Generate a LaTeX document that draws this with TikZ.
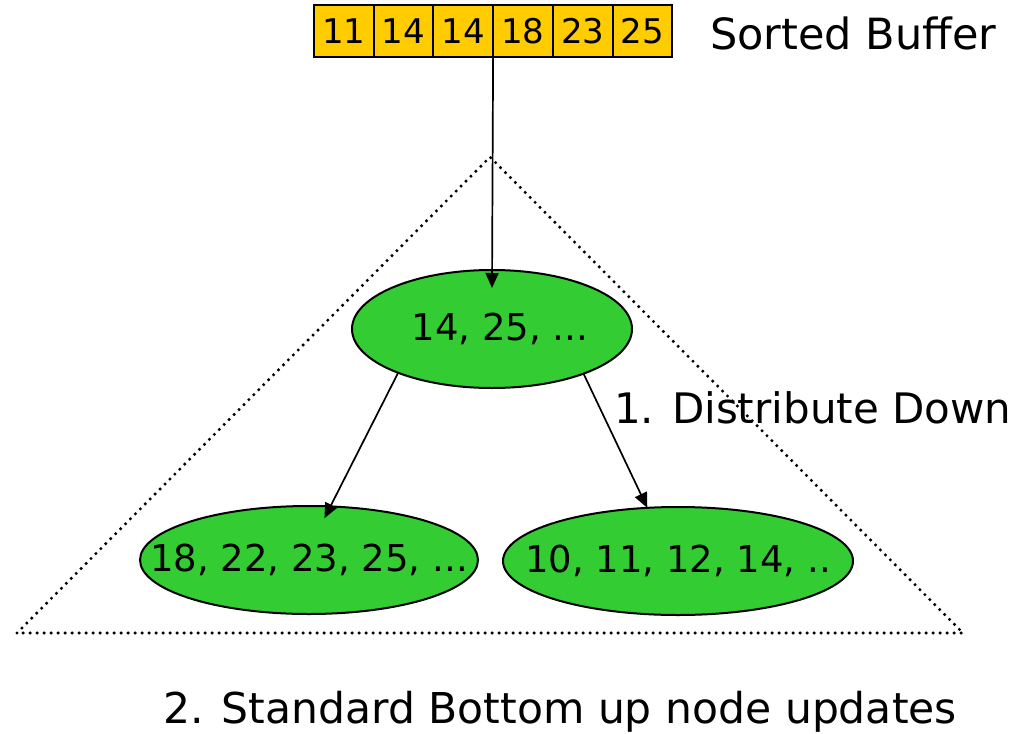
\documentclass[tikz,border=0pt]{standalone}
\usepackage{fontspec}
\setmainfont{DejaVu Sans}
\usetikzlibrary{shapes.geometric,arrows.meta}
\definecolor{bufgold}{HTML}{FFCC00}
\definecolor{nodegreen}{HTML}{33CC33}
\tikzset{
  cell/.style={draw=black, line width=2pt, fill=bufgold, minimum width=59.7pt, minimum height=52pt, inner sep=0pt, outer sep=0pt, anchor=north west, font=\fontsize{34}{40}\selectfont},
  treenode/.style={ellipse, draw=black, line width=2pt, fill=nodegreen, inner sep=0pt, outer sep=0pt, font=\fontsize{37}{42}\selectfont},
  arr/.style={line width=1.7pt, -{Triangle[length=15pt,width=13pt]}},
  lbl/.style={anchor=base west, inner sep=0pt},
  tri/.style={line width=3.4pt, line cap=round, dash pattern=on 0pt off 7pt}
}
\begin{document}
\begin{tikzpicture}[x=1pt,y=-1pt]
\useasboundingbox (0,0) rectangle (1035,733);
% triangle
\coordinate (apex) at (490,157);
\coordinate (bl0) at (17,633);
\coordinate (br0) at (963,633);
\draw[tri] (bl0) -- (apex) -- (br0) -- cycle;
% buffer
\node[cell] (b1) at (314,5) {11};
\node[cell] (b2) at (b1.north east) {14};
\node[cell] (b3) at (b2.north east) {14};
\node[cell] (b4) at (b3.north east) {18};
\node[cell] (b5) at (b4.north east) {23};
\node[cell] (b6) at (b5.north east) {25};
\node[lbl, font=\fontsize{43}{48}\selectfont] (sb) at (710,50) {Sorted Buffer};
% tree nodes
\node[treenode, minimum width=280pt, minimum height=118pt] (top) at (492,329) {\makebox[0pt]{\hspace*{16pt}14, 25, ...}};
\node[treenode, minimum width=338pt, minimum height=108pt] (bl) at (309,560) {\makebox[0pt]{18, 22, 23, 25, ...}};
\node[treenode, minimum width=350pt, minimum height=108pt] (br) at (678,561) {\makebox[0pt]{10, 11, 12, 14, ..}};
% arrows
\draw[arr] (b4.south west) -- ([yshift=-18pt]top.north);
\draw[arr] (top.205) -- ([yshift=-12pt]bl.74);
\draw[arr] (top.334) -- (br.120);
% labels
\node[lbl, font=\fontsize{42}{48}\selectfont] (dd) at (614,423) {1. Distribute Down};
\node[lbl, font=\fontsize{42.5}{48}\selectfont] (su) at (163,723) {2. Standard Bottom up node updates};
\end{tikzpicture}
\end{document}
